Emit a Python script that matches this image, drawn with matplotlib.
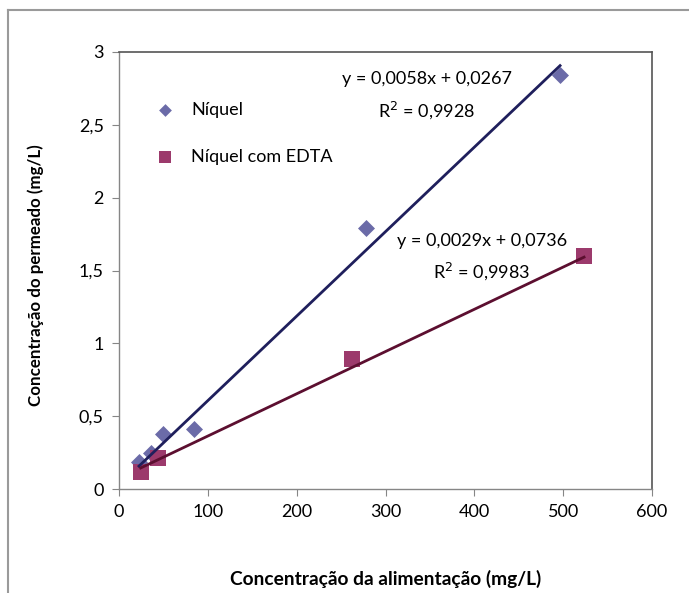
import matplotlib
matplotlib.use("Agg")
import matplotlib.pyplot as plt
from matplotlib.lines import Line2D
import numpy as np

plt.rcParams['font.family'] = ['Lato', 'DejaVu Sans']

# Data
ni_x = [22.5, 35.6, 49.9, 84.4, 278, 496.5]
ni_y = [0.185, 0.25, 0.375, 0.41, 1.79, 2.84]
edta_x = [24.4, 44.3, 262, 523.5]
edta_y = [0.12, 0.215, 0.89, 1.60]
ni_fit = [0.0058, 0.0267]
edta_fit = [0.0029, 0.0736]
ni_eq = ["y = 0,0058x + 0,0267", "R$^2$ = 0,9928"]
edta_eq = ["y = 0,0029x + 0,0736", "R$^2$ = 0,9983"]
xticks = [0, 100, 200, 300, 400, 500, 600]
yticks = [0, 0.5, 1, 1.5, 2, 2.5, 3]
ytick_labels = ["0", "0,5", "1", "1,5", "2", "2,5", "3"]

W, H = 689, 593
fig = plt.figure(figsize=(W/100, H/100), dpi=100)
ax = fig.add_axes([119/W, 1-489/H, (652-119)/W, (489-52)/H])

c_ni = '#6B6BA8'
c_ed = '#9C3A6C'
c_ni_line = '#1F1F5C'
c_ed_line = '#5C0F30'
FS = 13

xs = np.array([min(ni_x), max(ni_x)])
ax.plot(xs, ni_fit[0]*xs + ni_fit[1], color=c_ni_line, lw=2, zorder=3)
xs2 = np.array([min(edta_x), max(edta_x)])
ax.plot(xs2, edta_fit[0]*xs2 + edta_fit[1], color=c_ed_line, lw=2, zorder=3)

ax.scatter(ni_x, ni_y, marker='D', s=75, color=c_ni, zorder=2, label='Níquel', linewidths=0)
ax.scatter(edta_x, edta_y, marker='s', s=130, color=c_ed, zorder=2, label='Níquel com EDTA', linewidths=0)

ax.set_xlim(0, 600)
ax.set_ylim(0, 3)
ax.set_xticks(xticks)
ax.set_xticklabels([str(v) for v in xticks])
ax.set_yticks(yticks)
ax.set_yticklabels(ytick_labels)
for s in ['top', 'right']:
    ax.spines[s].set_color('#555555')
    ax.spines[s].set_linewidth(1.2)
for s in ['left', 'bottom']:
    ax.spines[s].set_color('#868686')
    ax.spines[s].set_linewidth(1)
ax.tick_params(direction='out', length=5, color='#868686', labelsize=FS, labelcolor='black', pad=6)

ax.set_xlabel('Concentração da alimentação (mg/L)', fontsize=13.8, fontweight='bold')
ax.xaxis.set_label_coords(0.5, -(570-489)/(489-52))
ax.set_ylabel('Concentração do permeado (mg/L)', fontsize=12.2, fontweight='bold')
ax.yaxis.set_label_coords((44-119)/(652-119), (489-275)/(489-52))

def px2data(px, py):
    return ((px-119)/(652-119)*600, (489-py)/(489-52)*3)

x1, y1 = px2data(426.5, 79)
ax.text(x1, y1, ni_eq[0], ha='center', va='center', fontsize=FS)
x1, y1 = px2data(426.5, 110)
ax.text(x1, y1, ni_eq[1], ha='center', va='center', fontsize=FS)
x1, y1 = px2data(482, 241)
ax.text(x1, y1, edta_eq[0], ha='center', va='center', fontsize=FS)
x1, y1 = px2data(481, 271)
ax.text(x1, y1, edta_eq[1], ha='center', va='center', fontsize=FS)

leg = ax.legend(loc='upper left', bbox_to_anchor=((144-119)/(652-119), 1-(95-52)/(489-52)),
                frameon=False, fontsize=FS, handletextpad=0.7, labelspacing=1.7,
                borderaxespad=0, markerscale=0.75, handlelength=1.5)

# outer frame
fig.add_artist(Line2D([8/W, 8/W], [0, 1-10/H], color='#9A9A9A', lw=1.5, transform=fig.transFigure))
fig.add_artist(Line2D([8/W, 1], [1-10/H, 1-10/H], color='#9A9A9A', lw=1.5, transform=fig.transFigure))

fig.savefig('out.png', dpi=100)
